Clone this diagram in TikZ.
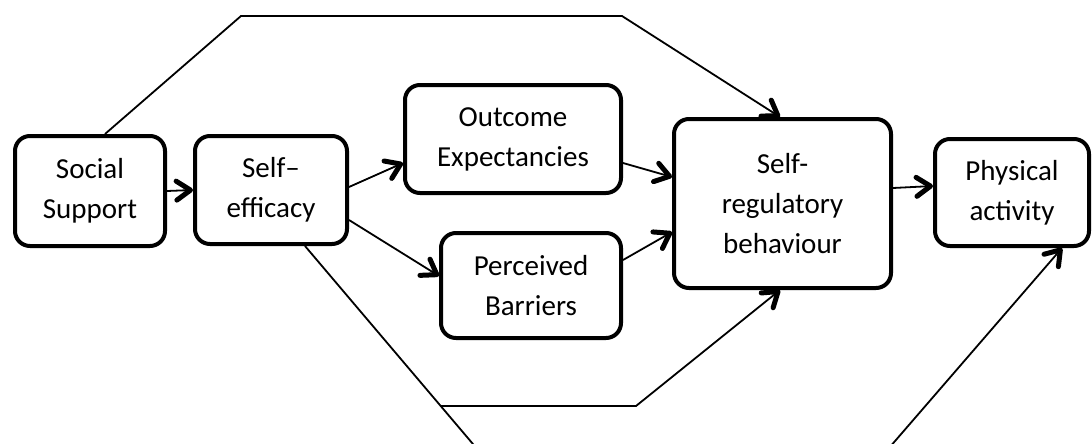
\documentclass[tikz,border=0pt]{standalone}
\usepackage{fontspec}
\setmainfont{Carlito}
\usetikzlibrary{arrows.meta,calc}
\begin{document}
\begin{tikzpicture}[x=1pt,y=-1pt,
  box/.style={draw, line width=4pt, rounded corners=15pt, align=center,
    inner sep=0pt, font=\fontsize{29}{40}\selectfont},
  link/.style={line width=1.8pt,
    -{Straight Barb[length=14pt,width=19pt,line width=5pt,round]}}]
\useasboundingbox (0,0) rectangle (1092,444);

% boxes
\node[box, minimum width=150pt, minimum height=110pt] (ss) at (90,191) {Social\\Support};
\node[box, minimum width=152pt, minimum height=108pt] (se) at (271,190) {Self–\\efficacy};
\node[box, minimum width=216pt, minimum height=108pt] (oe) at (513,139) {Outcome\\Expectancies};
\node[box, minimum width=180pt, minimum height=105pt] (pb) at (531,285.5) {Perceived\\Barriers};
\node[box, minimum width=217pt, minimum height=169pt] (sr) at (782.5,203.5) {Self-\\regulatory\\behaviour};
\node[box, minimum width=154pt, minimum height=107pt] (pa) at (1012,192.5) {Physical\\activity};

% direct links
\draw[link] (ss.east) -- (se.west);
\draw[link] ($(se.east)+(0,-3)$) -- ($(oe.west)+(0,24)$);
\draw[link] ($(se.east)+(0,30)$) -- ($(pb.west)+(0,-9.5)$);
\draw[link] ($(oe.east)+(0,24)$) -- ($(sr.west)+(0,-26.5)$);
\draw[link] ($(pb.east)+(0,-25.5)$) -- ($(sr.west)+(0,28.5)$);
\draw[link] ($(sr.east)+(0,-15.5)$) -- ($(pa.west)+(0,-6.5)$);

% upper route
\coordinate (t1) at (241,16);
\coordinate (t2) at (622,16);
\draw[link] ($(ss.north)+(15,0)$) -- (t1) -- (t2) -- ($(sr.north)+(-2.5,0)$);

% lower routes
\coordinate (b0) at ($(se.south)+(34,0)$);
\coordinate (b1) at (495,470);
\coordinate (b2) at (870,470);
\coordinate (j1) at (441,406);
\coordinate (j2) at (636,406);
\begin{scope}
  \clip (0,0) rectangle (1092,444);
  \draw[link] (b0) -- (b1) -- (b2) -- ($(pa.south)+(50,0)$);
\end{scope}
\draw[link] (j1) -- (j2) -- ($(sr.south)+(-2.5,0)$);
\end{tikzpicture}
\end{document}
